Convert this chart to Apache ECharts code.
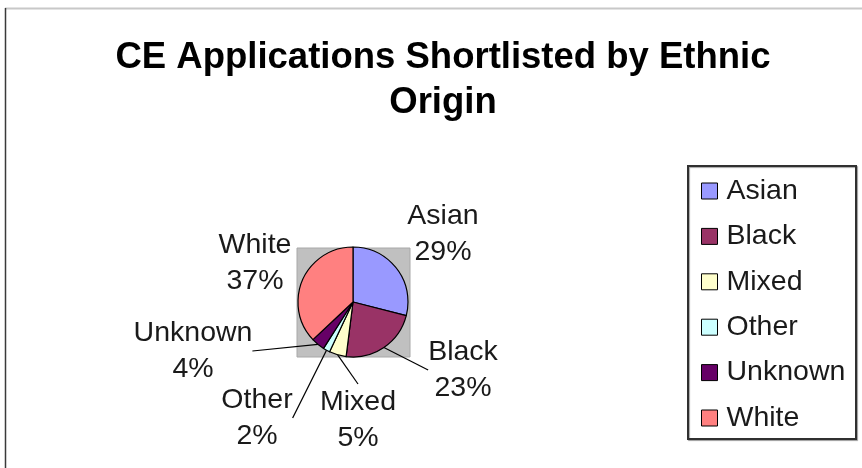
<!DOCTYPE html>
<html>
<head>
<meta charset="utf-8">
<title>CE Applications Shortlisted by Ethnic Origin</title>
<script src="https://cdn.jsdelivr.net/npm/echarts@6/dist/echarts.min.js"></script>
<style>
  html, body { margin: 0; padding: 0; background: #ffffff; }
  #chart { width: 862px; height: 468px; }
</style>
</head>
<body>
<div id="chart"></div>
<script>
// Shortlisted applications by ethnic origin (percent of total)
const categories = ['Asian', 'Black', 'Mixed', 'Other', 'Unknown', 'White'];
const shares = [29, 23, 5, 2, 4, 37];
const sliceColors = ['#9999FF', '#993366', '#FFFFCC', '#CCFFFF', '#660066', '#FF8080'];

const FONT = '"Liberation Sans", Arial, sans-serif';
const PIE_CENTER = [353, 302];
const PIE_RADIUS = 55;

// Where each category's label block sits (centre of the two-line label)
const labelSpots = {
  Asian:   [443, 234],
  Black:   [463, 370],
  Mixed:   [358, 420],
  Other:   [257, 418],
  Unknown: [193, 351],
  White:   [255, 263]
};
// Slices whose label sits next to them without a leader line
const noLeader = { Asian: true, White: true };

const chart = echarts.init(document.getElementById('chart'), null, { renderer: 'canvas' });

const pieData = categories.map((name, i) => ({
  name: name,
  value: shares[i],
  itemStyle: { color: sliceColors[i] },
  labelLine: { show: !noLeader[name] }
}));

chart.setOption({
  animation: false,
  backgroundColor: '#ffffff',
  title: {
    text: 'CE Applications Shortlisted by Ethnic\nOrigin',
    left: 443,
    top: 35,
    padding: 0,
    textAlign: 'center',
    textStyle: {
      fontFamily: FONT,
      fontSize: 36.5,
      fontWeight: 'bold',
      color: '#000000',
      lineHeight: 45
    }
  },
  legend: {
    orient: 'vertical',
    left: 701,
    top: 176,
    padding: 0,
    itemWidth: 16,
    itemHeight: 16,
    itemGap: 15.4,
    icon: 'rect',
    selectedMode: false,
    data: categories,
    itemStyle: { borderColor: '#000000', borderWidth: 1 },
    textStyle: {
      fontFamily: FONT,
      fontSize: 28.5,
      color: '#1a1a1a',
      lineHeight: 30,
      padding: [0, 0, 0, 4]
    }
  },
  graphic: [
    // chart frame edges
    { type: 'line', silent: true, shape: { x1: 5, y1: 8.5, x2: 862, y2: 8.5 },
      style: { stroke: '#c8c8c8', lineWidth: 2 } },
    { type: 'line', silent: true, shape: { x1: 5.5, y1: 8, x2: 5.5, y2: 468 },
      style: { stroke: '#3a3a3a', lineWidth: 1.5 } },
    // grey plot area behind the pie
    { type: 'rect', silent: true, z: -1,
      shape: { x: PIE_CENTER[0] - 56, y: PIE_CENTER[1] - 54,
               width: 113, height: 109 },
      style: { fill: '#c0c0c0', stroke: '#a8a8a8', lineWidth: 1 } },
    // legend box
    { type: 'rect', silent: true, z: -1,
      shape: { x: 688, y: 166, width: 168, height: 273 },
      style: { fill: '#ffffff', stroke: '#303030', lineWidth: 2,
               shadowColor: 'rgba(0,0,0,0.35)', shadowOffsetX: 1, shadowOffsetY: 1, shadowBlur: 1 } }
  ],
  series: [{
    type: 'pie',
    center: PIE_CENTER,
    radius: PIE_RADIUS,
    startAngle: 90,
    clockwise: true,
    avoidLabelOverlap: false,
    data: pieData,
    itemStyle: { borderColor: '#000000', borderWidth: 1.2 },
    label: {
      show: true,
      position: 'outside',
      formatter: '{b}\n{d}%',
      fontFamily: FONT,
      fontSize: 28.5,
      lineHeight: 36,
      color: '#1a1a1a',
      align: 'center'
    },
    labelLine: {
      show: true,
      length: 10,
      length2: 0,
      smooth: false,
      lineStyle: { color: '#000000', width: 1.2 }
    },
    labelLayout: function (params) {
      const spot = labelSpots[categories[params.dataIndex]];
      return { x: spot[0], y: spot[1], align: 'center', verticalAlign: 'middle' };
    },
    emphasis: { disabled: true }
  }]
});
</script>
</body>
</html>
